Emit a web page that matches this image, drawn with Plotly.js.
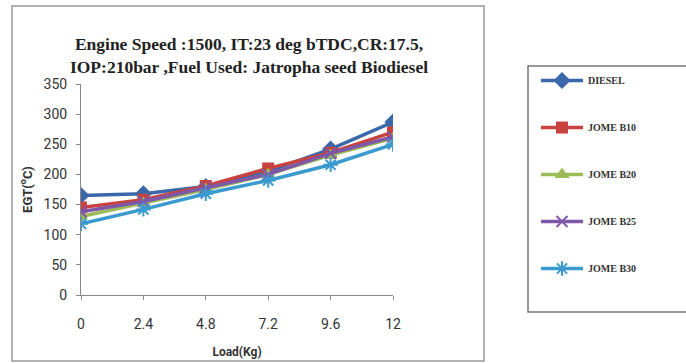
<!DOCTYPE html>
<html><head><meta charset="utf-8">
<script src="https://cdn.plot.ly/plotly-3.0.1.min.js"></script>
<style>html,body{margin:0;padding:0;background:#fff;}#chart{width:686px;height:363px;}</style>
</head><body><div id="chart"></div>
<script>
const load = [0, 2.4, 4.8, 7.2, 9.6, 12];
const diesel = [165, 168, 180, 205, 242, 287];
const b10 = [145, 158, 181, 210, 236, 270];
const b20 = [130, 152, 175, 200, 232, 260];
const b25 = [138, 155, 178, 200, 235, 262];
const b30 = [118, 142, 168, 190, 216, 250];
const names = ['DIESEL', 'JOME B10', 'JOME B20', 'JOME B25', 'JOME B30'];
const xTicks = ['0', '2.4', '4.8', '7.2', '9.6', '12'];

const series = [diesel, b10, b20, b25, b30];
const colors = ['#3B68AA', '#C8423F', '#9BBB59', '#7E57A8', '#3A9AD0'];
const symbols = ['diamond', 'square', 'triangle-up', 'x-thin-open', 'asterisk-open'];
const sizes = [11, 10, 10, 11, 12];

const traces = series.map((s, i) => ({
  x: load, y: s, name: names[i], type: 'scatter', mode: 'lines+markers',
  legendgroup: 'g' + i,
  line: {color: colors[i], width: 3.5},
  marker: {symbol: symbols[i], size: sizes[i], color: colors[i], line: {color: colors[i], width: 2}}
}));

const L = 81, R = 393, T = 84, B = 295;
const W = R - L, H = B - T;
const px = v => (v - L) / W;
const py = v => (B - v) / H;

const layout = {
  width: 686, height: 363,
  margin: {l: L, r: 686 - R, t: T, b: 363 - B, pad: 0},
  paper_bgcolor: '#fff', plot_bgcolor: '#fff',
  showlegend: true,
  title: {
    text: '<b>Engine Speed :1500, IT:23 deg bTDC,CR:17.5,<br>IOP:210bar ,Fuel Used: Jatropha seed Biodiesel</b>',
    font: {family: 'Liberation Serif, Times New Roman, serif', size: 17.5, color: '#222'},
    x: 249 / 686, xanchor: 'center', xref: 'container',
    y: 1 - 50 / 363, yanchor: 'top', yref: 'container'
  },
  xaxis: {
    range: [0, 12], tickvals: load, ticktext: xTicks,
    showgrid: false, zeroline: false,
    showline: true, linecolor: '#888', linewidth: 1,
    ticks: 'outside', ticklen: 4, tickcolor: '#888',
    ticklabelstandoff: 12,
    tickfont: {family: 'Roboto, sans-serif', size: 14, color: '#333'},
    title: {text: '<b>Load(Kg)</b>', font: {family: 'Roboto, sans-serif', size: 12, color: '#333'}, standoff: 16}
  },
  yaxis: {
    range: [0, 350], dtick: 50, tick0: 0,
    showgrid: false, zeroline: false,
    showline: true, linecolor: '#888', linewidth: 1,
    ticks: 'outside', ticklen: 4, tickcolor: '#888',
    ticklabelstandoff: 6,
    tickfont: {family: 'Roboto, sans-serif', size: 14, color: '#333'},
    title: {text: '<b>EGT(<sup>o</sup>C)</b>', font: {family: 'Roboto, sans-serif', size: 13, color: '#333'}, standoff: 8}
  },
  legend: {
    x: px(536), y: py(66), xanchor: 'left', yanchor: 'top',
    borderwidth: 0, bgcolor: 'rgba(0,0,0,0)',
    tracegroupgap: 28, itemwidth: 42, maxheight: 320,
    font: {family: 'Liberation Serif, Times New Roman, serif', size: 10, color: '#333', weight: 'bold'}
  },
  shapes: [
    {type: 'rect', xref: 'paper', yref: 'paper', x0: px(12), x1: px(484), y0: py(361), y1: py(6),
     line: {color: '#999', width: 1.5}, fillcolor: 'rgba(0,0,0,0)', layer: 'below'},
    {type: 'rect', xref: 'paper', yref: 'paper', x0: px(528), x1: px(692), y0: py(312), y1: py(66),
     line: {color: '#777', width: 1.5}, fillcolor: 'rgba(0,0,0,0)', layer: 'below'}
  ]
};

Plotly.newPlot('chart', traces, layout, {displayModeBar: false, staticPlot: true});
</script></body></html>
